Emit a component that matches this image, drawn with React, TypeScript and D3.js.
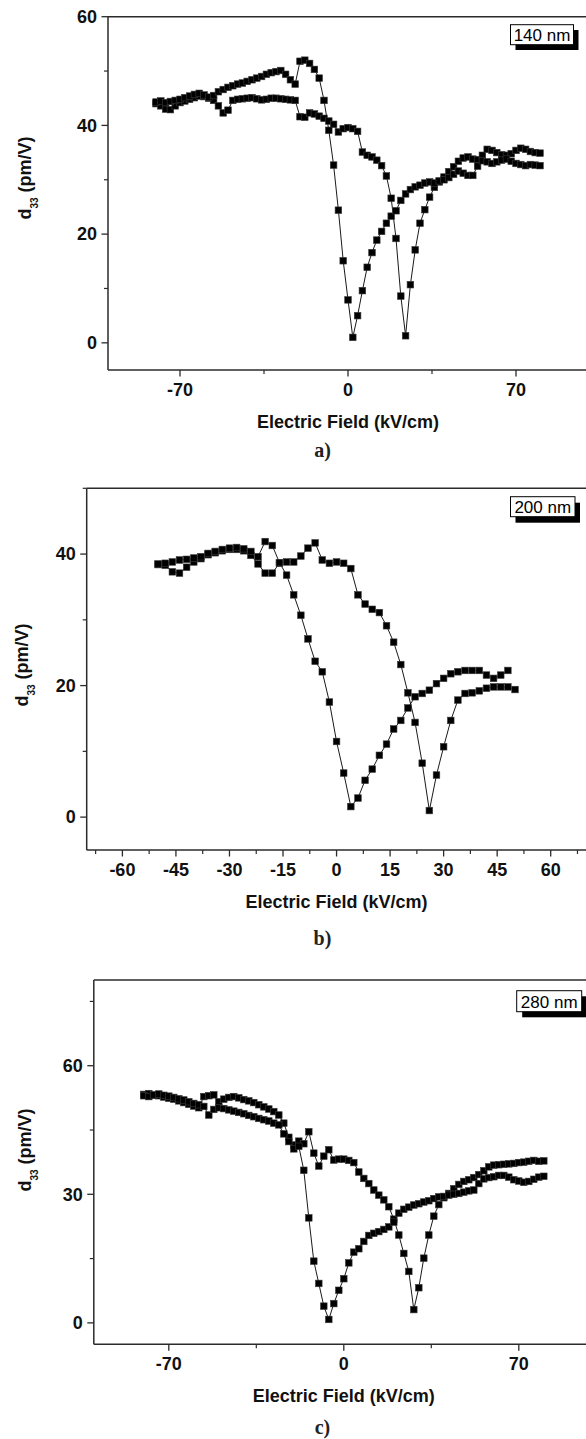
import React from "react";
import * as d3 from "d3";

// Field sweep grids (kV/cm)
const FIELD_80 = [
  -80, -78, -76, -74, -72, -70, -68, -66, -64, -62, -60, -58, -56, -54, -52, -50, -48, -46, -44, -42,
  -40, -38, -36, -34, -32, -30, -28, -26, -24, -22, -20, -18, -16, -14, -12, -10, -8, -6, -4, -2,
  0, 2, 4, 6, 8, 10, 12, 14, 16, 18, 20, 22, 24, 26, 28, 30, 32, 34, 36, 38,
  40, 42, 44, 46, 48, 50, 52, 54, 56, 58, 60, 62, 64, 66, 68, 70, 72, 74, 76, 78, 80,
];
const FIELD_50 = [
  -50, -48, -46, -44, -42, -40, -38, -36, -34, -32, -30, -28, -26, -24, -22, -20, -18, -16, -14, -12,
  -10, -8, -6, -4, -2, 0, 2, 4, 6, 8, 10, 12, 14, 16, 18, 20, 22, 24, 26, 28,
  30, 32, 34, 36, 38, 40, 42, 44, 46, 48, 50,
];

// 140 nm film, d33 (pm/V)
const D33_140_UP = [
  44.0, 43.6, 43.0, 42.9, 43.6, 44.2, 44.5, 44.8, 45.1, 45.4, 45.3, 45.0, 44.6, 43.6, 42.3, 42.8, 44.6, 44.8, 44.9, 45.0,
  45.1, 44.9, 44.7, 44.8, 45.0, 45.0, 44.9, 44.8, 44.7, 44.6, 41.6, 41.5, 42.3, 42.1, 41.7, 41.3, 40.8, 40.2, 38.8, 39.4,
  39.6, 39.4, 38.9, 35.1, 34.5, 34.2, 33.6, 32.6, 30.7, 26.6, 19.2, 8.6, 1.3, 10.7, 17.1, 22.0, 24.5, 26.8, 28.6, 29.6,
  30.5, 31.5, 32.4, 33.4, 34.0, 34.2, 33.8, 33.7, 34.5, 35.6, 35.4, 35.0, 34.6, 34.5, 34.8, 35.4, 35.8, 35.6, 35.2, 35.0, 34.9,
];
const D33_140_DOWN = [
  44.3, 44.5, 44.2, 44.4, 44.6, 44.8, 45.1, 45.4, 45.7, 45.9, 45.6, 45.2, 45.5, 46.2, 46.6, 47.0, 47.3, 47.6, 47.8, 48.1,
  48.4, 48.7, 49.0, 49.4, 49.7, 49.9, 50.1, 49.4, 48.4, 47.6, 51.8, 52.0, 51.4, 50.3, 48.7, 44.6, 39.1, 32.7, 24.4, 15.1,
  7.9, 1.0, 5.0, 9.6, 13.9, 16.6, 18.9, 20.5, 22.0, 23.3, 24.3, 26.2, 27.4, 28.2, 28.7, 29.0, 29.4, 29.6, 29.4, 29.8,
  30.0, 30.4, 31.0, 31.6, 31.2, 30.8, 30.8, 32.5, 33.5, 33.3, 33.0, 33.3, 33.6, 33.8, 33.4, 33.0, 32.8, 32.6, 32.8, 32.7, 32.6,
];

// 200 nm film, d33 (pm/V)
const D33_200_UP = [
  38.4, 38.3, 37.3, 37.1, 38.0, 38.8, 39.3, 39.9, 40.2, 40.5, 40.7, 40.7, 40.5, 39.8, 38.5, 37.1, 37.1, 38.6, 38.8, 38.8,
  39.7, 40.9, 41.7, 39.1, 38.6, 38.8, 38.6, 37.8, 33.8, 32.4, 31.6, 31.1, 29.1, 26.6, 23.2, 18.9, 14.4, 8.2, 1.0, 6.4,
  10.7, 14.7, 17.8, 18.8, 18.9, 19.2, 19.6, 19.8, 19.8, 19.8, 19.4,
];
const D33_200_DOWN = [
  38.5, 38.6, 38.8, 39.1, 39.2, 39.4, 39.6, 40.1, 40.4, 40.7, 40.9, 41.0, 40.8, 40.4, 39.6, 41.9, 41.3, 38.7, 36.8, 33.8,
  30.7, 27.1, 23.7, 22.1, 17.5, 11.5, 6.7, 1.6, 2.9, 5.6, 7.3, 9.4, 11.1, 13.4, 14.7, 16.6, 18.3, 18.8, 19.3, 20.3,
  21.1, 21.8, 22.1, 22.3, 22.3, 22.3, 21.6, 21.1, 21.6, 22.3,
];

// 280 nm film, d33 (pm/V)
const D33_280_UP = [
  53.3, 53.5, 53.1, 53.0, 52.7, 52.4, 52.2, 51.8, 51.4, 51.0, 50.6, 50.2, 52.8, 53.0, 53.2, 51.6, 52.2, 52.6, 52.8, 52.5,
  52.1, 51.8, 51.4, 50.9, 50.4, 49.9, 49.3, 48.5, 46.6, 43.3, 41.5, 42.4, 41.8, 44.6, 39.6, 36.6, 38.9, 40.4, 38.0, 38.2,
  38.2, 37.9, 37.4, 35.2, 33.7, 32.5, 31.0, 29.8, 28.7, 27.1, 24.2, 20.5, 16.2, 12.0, 3.1, 8.2, 15.1, 20.5, 24.9, 27.6,
  29.2, 30.2, 31.3, 32.3, 33.0, 33.4, 33.9, 34.6, 35.5, 36.4, 36.8, 36.9, 37.0, 37.1, 37.2, 37.4, 37.5, 37.7, 37.9, 37.7, 37.8,
];
const D33_280_DOWN = [
  53.0, 52.8, 53.2, 53.4, 53.1, 52.9, 52.6, 52.3, 52.0, 51.6, 51.2, 50.9, 50.5, 48.5, 49.8, 50.2, 50.0, 49.7, 49.4, 49.1,
  48.8, 48.4, 48.1, 47.7, 47.4, 47.1, 46.6, 46.2, 44.1, 42.3, 40.6, 41.2, 35.6, 24.5, 14.4, 9.2, 3.9, 0.8, 4.5, 7.6,
  10.3, 14.0, 16.5, 17.3, 19.0, 20.4, 20.9, 21.3, 21.8, 22.4, 23.5, 25.6, 26.5, 27.0, 27.5, 27.8, 28.2, 28.5, 29.0, 29.4,
  29.5, 29.8, 30.0, 30.2, 30.5, 30.8, 31.0, 32.5, 33.6, 33.9, 34.1, 34.4, 34.4, 34.0, 33.4, 33.1, 32.8, 33.0, 33.5, 34.0, 34.2,
];

// Axis ticks
const X_MAJOR_WIDE = [-70, 0, 70];
const X_MINOR_WIDE = [-35, 35];
const X_MAJOR_NARROW = [-60, -45, -30, -15, 0, 15, 30, 45, 60];
const X_MINOR_NARROW = [-67.5, -52.5, -37.5, -22.5, -7.5, 7.5, 22.5, 37.5, 52.5, 67.5];
const Y_MAJOR_140 = [0, 20, 40, 60];
const Y_MINOR_140 = [10, 30, 50];
const Y_MAJOR_200 = [0, 20, 40];
const Y_MINOR_200 = [10, 30, 50];
const Y_MAJOR_280 = [0, 30, 60];
const Y_MINOR_280 = [15, 45, 75];

const SANS = "'Liberation Sans', Arial, Helvetica, sans-serif";
const SERIF = "'Liberation Serif', 'Times New Roman', serif";

type PanelSpec = {
  field: number[];
  series: number[][];
  xDomain: [number, number];
  yDomain: [number, number];
  xRange: [number, number];
  yRange: [number, number];
  xMajor: number[];
  xMinor: number[];
  yMajor: number[];
  yMinor: number[];
  tag: string;
  tagBox: { x: number; y: number; w: number; h: number; dx: number; dy: number };
  letter: string;
  letterY: number;
  yTitle: { x: number; y: number };
};

const PANELS: PanelSpec[] = [
  {
    field: FIELD_80,
    series: [D33_140_UP, D33_140_DOWN],
    xDomain: [-100, 100],
    yDomain: [-5, 60],
    xRange: [108, 588],
    yRange: [370, 16.7],
    xMajor: X_MAJOR_WIDE,
    xMinor: X_MINOR_WIDE,
    yMajor: Y_MAJOR_140,
    yMinor: Y_MINOR_140,
    tag: "140 nm",
    tagBox: { x: 510.5, y: 24.7, w: 63, h: 20, dx: 5, dy: 5.3 },
    letter: "a)",
    letterY: 457,
    yTitle: { x: 31, y: 178 },
  },
  {
    field: FIELD_50,
    series: [D33_200_UP, D33_200_DOWN],
    xDomain: [-70, 70],
    yDomain: [-5, 50],
    xRange: [86.7, 586.4],
    yRange: [850, 488.3],
    xMajor: X_MAJOR_NARROW,
    xMinor: X_MINOR_NARROW,
    yMajor: Y_MAJOR_200,
    yMinor: Y_MINOR_200,
    tag: "200 nm",
    tagBox: { x: 510.5, y: 496.7, w: 64.5, h: 20, dx: 5, dy: 6 },
    letter: "b)",
    letterY: 945,
    yTitle: { x: 28, y: 665 },
  },
  {
    field: FIELD_80,
    series: [D33_280_UP, D33_280_DOWN],
    xDomain: [-100, 100],
    yDomain: [-5, 80],
    xRange: [93.8, 593.8],
    yRange: [1344.3, 980],
    xMajor: X_MAJOR_WIDE,
    xMinor: X_MINOR_WIDE,
    yMajor: Y_MAJOR_280,
    yMinor: Y_MINOR_280,
    tag: "280 nm",
    tagBox: { x: 516.7, y: 990.7, w: 65, h: 21, dx: 5.5, dy: 5.6 },
    letter: "c)",
    letterY: 1434,
    yTitle: { x: 31, y: 1150 },
  },
];

const AXIS_COLOR = "#2b2b2b";
const MARK = 6.6;

function Panel({ p }: { p: PanelSpec }) {
  const x = d3.scaleLinear().domain(p.xDomain).range(p.xRange);
  const y = d3.scaleLinear().domain(p.yDomain).range(p.yRange);
  const line = d3
    .line<[number, number]>()
    .x((d) => x(d[0]))
    .y((d) => y(d[1]));

  const [x0, x1] = p.xRange;
  const [yb, yt] = p.yRange;

  const pts = p.series.map((vals) =>
    vals.map((v, i) => [p.field[i], v] as [number, number])
  );

  const xMid = (x0 + x1) / 2;

  return (
    <g>
      {/* connecting lines */}
      {pts.map((s, k) => (
        <path key={"l" + k} d={line(s) || ""} fill="none" stroke="#000" strokeWidth={0.9} />
      ))}
      {/* square markers */}
      {pts.map((s, k) => (
        <g key={"m" + k}>
          {s.map((d, i) => (
            <rect
              key={i}
              x={x(d[0]) - MARK / 2}
              y={y(d[1]) - MARK / 2}
              width={MARK}
              height={MARK}
              fill="#000"
              stroke="#3a3a3a"
              strokeWidth={0.6}
            />
          ))}
        </g>
      ))}

      {/* frame: left, bottom, top */}
      <line x1={x0} x2={x0} y1={yt} y2={yb} stroke={AXIS_COLOR} strokeWidth={1.5} />
      <line x1={x0} x2={x1} y1={yb} y2={yb} stroke={AXIS_COLOR} strokeWidth={1.5} />
      <line x1={x0} x2={x1} y1={yt} y2={yt} stroke={AXIS_COLOR} strokeWidth={1.5} />

      {/* x ticks */}
      {p.xMajor.map((v) => (
        <g key={"xM" + v}>
          <line x1={x(v)} x2={x(v)} y1={yb} y2={yb + 6.5} stroke={AXIS_COLOR} strokeWidth={1.3} />
          <text
            x={x(v)}
            y={yb + 26}
            textAnchor="middle"
            fontFamily={SANS}
            fontWeight="bold"
            fontSize={18}
            fill="#111"
          >
            {String(v)}
          </text>
        </g>
      ))}
      {p.xMinor.map((v) => (
        <line key={"xm" + v} x1={x(v)} x2={x(v)} y1={yb} y2={yb + 4} stroke={AXIS_COLOR} strokeWidth={1.2} />
      ))}

      {/* y ticks */}
      {p.yMajor.map((v) => (
        <g key={"yM" + v}>
          <line x1={x0} x2={x0 - 6.5} y1={y(v)} y2={y(v)} stroke={AXIS_COLOR} strokeWidth={1.3} />
          <text
            x={x0 - 11}
            y={y(v)}
            dy="0.35em"
            textAnchor="end"
            fontFamily={SANS}
            fontWeight="bold"
            fontSize={18}
            fill="#111"
          >
            {String(v)}
          </text>
        </g>
      ))}
      {p.yMinor.map((v) => (
        <line key={"ym" + v} x1={x0} x2={x0 - 4} y1={y(v)} y2={y(v)} stroke={AXIS_COLOR} strokeWidth={1.2} />
      ))}

      {/* axis titles */}
      <text
        x={xMid}
        y={yb + 58}
        textAnchor="middle"
        fontFamily={SANS}
        fontWeight="bold"
        fontSize={18}
        fill="#111"
      >
        Electric Field (kV/cm)
      </text>
      <text
        transform={`translate(${p.yTitle.x},${p.yTitle.y}) rotate(-90)`}
        textAnchor="middle"
        fontFamily={SANS}
        fontWeight="bold"
        fontSize={18}
        fill="#111"
      >
        d
        <tspan fontSize={10} dy={7}>
          33
        </tspan>
        <tspan dy={-7}> (pm/V)</tspan>
      </text>

      {/* panel letter */}
      <text
        x={322.5}
        y={p.letterY}
        textAnchor="middle"
        fontFamily={SERIF}
        fontWeight="bold"
        fontSize={20}
        fill="#222"
      >
        {p.letter}
      </text>

      {/* thickness tag with drop shadow */}
      <rect
        x={p.tagBox.x + p.tagBox.dx}
        y={p.tagBox.y + p.tagBox.dy}
        width={p.tagBox.w}
        height={p.tagBox.h}
        fill="#000"
      />
      <rect
        x={p.tagBox.x}
        y={p.tagBox.y}
        width={p.tagBox.w}
        height={p.tagBox.h}
        fill="#fff"
        stroke="#000"
        strokeWidth={1}
      />
      <text
        x={p.tagBox.x + p.tagBox.w / 2}
        y={p.tagBox.y + p.tagBox.h - 3.5}
        textAnchor="middle"
        fontFamily={SANS}
        fontSize={17}
        fill="#000"
      >
        {p.tag}
      </text>
    </g>
  );
}

export default function App() {
  return (
    <div style={{ position: "absolute", left: 0, top: 0, width: 586, height: 1439, background: "#fff" }}>
      <svg width={586} height={1439} viewBox="0 0 586 1439" style={{ display: "block" }}>
        <rect x={0} y={0} width={586} height={1439} fill="#fff" />
        {PANELS.map((p, i) => (
          <Panel key={i} p={p} />
        ))}
      </svg>
    </div>
  );
}
